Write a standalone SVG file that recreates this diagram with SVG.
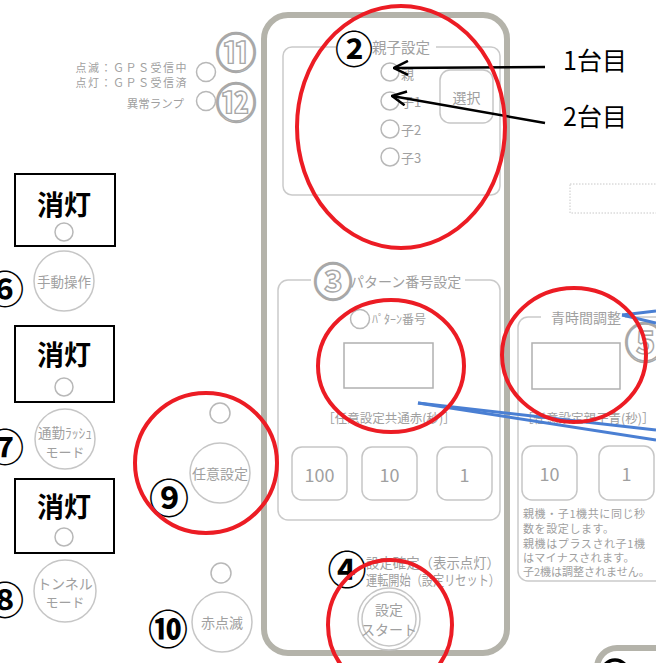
<svg xmlns="http://www.w3.org/2000/svg" width="656" height="663" viewBox="0 0 656 663">
<defs>
<style>
text{font-family:"Noto Sans CJK JP","Noto Sans",sans-serif;dominant-baseline:central}
.g{fill:#a0a0a0}
.panel{fill:none;stroke:#b4b3aa;stroke-width:6}
.box{fill:none;stroke:#cacaca;stroke-width:1.5}
.btn{fill:#fff;stroke:#c6c6c6;stroke-width:1.5}
.led{fill:#fff;stroke:#b8b8b8;stroke-width:1.5}
.disp{fill:#fff;stroke:#b0b0b0;stroke-width:1.5}
.red{fill:none;stroke:#ec1c24;stroke-width:4}
.blue{fill:none;stroke:#4a7fd3;stroke-width:3}
.num{font-weight:bold;fill:#000;text-anchor:middle}
.onum{font-weight:bold;fill:#fff;stroke:#a8a8a8;stroke-width:1.4;text-anchor:middle}
.blk{fill:none;stroke:#000;stroke-width:2}
.off{font-weight:bold;font-size:27px;fill:#000;text-anchor:middle}
.arrow{stroke:#000;stroke-width:2.5;fill:none}
.mid{text-anchor:middle}
.note{font-size:11px}
</style>
<marker id="arr" viewBox="0 0 16 16" refX="15" refY="8" markerWidth="16" markerHeight="16" orient="auto" markerUnits="userSpaceOnUse">
<path d="M1,1 L15,8 L1,15" fill="none" stroke="#000" stroke-width="2.5"/>
</marker>
</defs>
<rect width="656" height="663" fill="#fff"/>

<g id="main-panel">
<rect class="panel" x="264" y="15" width="243" height="638" rx="24"/>
</g>

<g id="panel-oyako">
<rect class="box" x="283" y="47" width="217" height="148" rx="9"/>
<rect x="336" y="40" width="100" height="14" fill="#fff"/>
<text class="g" x="372" y="46" font-size="14.5">親子設定</text>
<text class="num" x="354" y="46" font-size="38">②</text>
<circle class="led" cx="390" cy="72" r="9"/>
<text class="g" x="401" y="73" font-size="13">親</text>
<circle class="led" cx="390" cy="101" r="9"/>
<text class="g" x="401" y="101" font-size="13">子1</text>
<circle class="led" cx="390" cy="129" r="9"/>
<text class="g" x="401" y="129" font-size="13">子2</text>
<circle class="led" cx="390" cy="157" r="9"/>
<text class="g" x="401" y="157" font-size="13">子3</text>
<rect class="btn" x="440" y="70" width="53" height="53" rx="10"/>
<text class="g mid" x="466.5" y="97" font-size="14">選択</text>
</g>

<g id="gps-lamps">
<text class="g" x="188" y="67" font-size="11" text-anchor="end" letter-spacing="1.5">点滅：ＧＰＳ受信中</text>
<text class="g" x="188" y="82" font-size="11" text-anchor="end" letter-spacing="1.5">点灯：ＧＰＳ受信済</text>
<text class="g" x="184" y="103" font-size="11.5" text-anchor="end">異常ランプ</text>
<circle class="led" cx="206" cy="72" r="9.5"/>
<circle class="led" cx="206" cy="101" r="9.5"/>
<text class="onum" x="236" y="50" font-size="41">⑪</text>
<text class="onum" x="236" y="100" font-size="41">⑫</text>
</g>

<g id="mode-manual">
<rect class="blk" x="15" y="174" width="100" height="72"/>
<text class="off" x="64" y="203">消灯</text>
<circle class="led" cx="64" cy="232" r="9"/>
<circle class="btn" cx="64" cy="281" r="30"/>
<text class="g mid" x="64" y="281" font-size="13.5">手動操作</text>
<text class="num" x="5" y="286" font-size="38">⑥</text>
</g>

<g id="mode-rush">
<rect class="blk" x="15" y="326" width="99" height="76"/>
<text class="off" x="64" y="353">消灯</text>
<circle class="led" cx="64" cy="387" r="9"/>
<circle class="btn" cx="65" cy="439" r="30"/>
<text class="g mid" x="65" y="432" font-size="13.5">通勤ﾗｯｼｭ</text>
<text class="g mid" x="65" y="451" font-size="13">モード</text>
<text class="num" x="5" y="444" font-size="38">⑦</text>
</g>

<g id="mode-tunnel">
<rect class="blk" x="15" y="479" width="99" height="74"/>
<text class="off" x="64" y="505">消灯</text>
<circle class="led" cx="64" cy="537" r="9"/>
<circle class="btn" cx="65" cy="591" r="31"/>
<text class="g mid" x="65" y="583" font-size="14">トンネル</text>
<text class="g mid" x="65" y="601" font-size="13">モード</text>
<text class="num" x="5" y="597" font-size="38">⑧</text>
</g>

<g id="mode-nini">
<circle class="led" cx="220" cy="413" r="10"/>
<circle class="btn" cx="220" cy="473" r="30"/>
<text class="g mid" x="220" y="473" font-size="14">任意設定</text>
<text class="num" x="169" y="496" font-size="40">⑨</text>
</g>

<g id="mode-red">
<circle class="led" cx="221" cy="573" r="10"/>
<circle class="btn" cx="222" cy="622" r="30"/>
<text class="g mid" x="222" y="622" font-size="14">赤点滅</text>
<text class="num" x="168" y="627" font-size="40">⑩</text>
</g>

<g id="panel-pattern">
<rect class="box" x="278" y="280" width="222" height="240" rx="10"/>
<rect x="311" y="268" width="154" height="24" fill="#fff"/>
<text class="onum" x="333" y="279" font-size="39">③</text>
<text class="g" x="350" y="281" font-size="14">パターン番号設定</text>
<circle class="led" cx="360" cy="319" r="9.5"/>
<text class="g" x="372" y="318" font-size="12">ﾊﾟﾀｰﾝ番号</text>
<rect class="disp" x="344" y="343" width="89" height="45"/>
<text class="g mid" x="389" y="417" font-size="12.5">［任意設定共通赤(秒)］</text>
<rect class="btn" x="292" y="447" width="55" height="53" rx="10"/>
<text class="g mid" x="319.5" y="474" font-size="18">100</text>
<rect class="btn" x="362" y="447" width="55" height="53" rx="10"/>
<text class="g mid" x="389.5" y="474" font-size="18">10</text>
<rect class="btn" x="437" y="447" width="55" height="53" rx="10"/>
<text class="g mid" x="464.5" y="474" font-size="18">1</text>
</g>

<g id="panel-blue">
<rect class="box" x="518" y="317" width="160" height="264" rx="10"/>
<rect x="541" y="307" width="84" height="20" fill="#fff"/>
<text class="g" x="551" y="317" font-size="14">青時間調整</text>
<text class="onum" x="645" y="340" font-size="41">⑤</text>
<rect class="disp" x="532" y="343" width="88" height="46"/>
<text class="g" x="521" y="417" font-size="12.5">［任意設定親子青(秒)］</text>
<rect class="btn" x="522" y="446" width="55" height="54" rx="10"/>
<text class="g mid" x="549.5" y="473" font-size="18">10</text>
<rect class="btn" x="599" y="446" width="55" height="54" rx="10"/>
<text class="g mid" x="626.5" y="473" font-size="18">1</text>
<text class="g note" x="523" y="513" letter-spacing="0.6">親機・子1機共に同じ秒</text>
<text class="g note" x="523" y="528" letter-spacing="0.6">数を設定します。</text>
<text class="g note" x="523" y="543" letter-spacing="0.6">親機はプラスされ子1機</text>
<text class="g note" x="523" y="557" letter-spacing="0.3">はマイナスされます。</text>
<text class="g note" x="523" y="571" letter-spacing="0">子2機は調整されません。</text>
</g>

<g id="start">
<text class="g" x="366" y="562" font-size="14" textLength="134" lengthAdjust="spacingAndGlyphs">設定確定（表示点灯）</text>
<text class="g" x="366" y="579" font-size="14" textLength="134" lengthAdjust="spacingAndGlyphs">運転開始（設定リセット）</text>
<text class="num" x="347" y="567" font-size="39">④</text>
<circle class="btn" cx="389" cy="619" r="31"/>
<circle class="btn" cx="389" cy="619" r="27"/>
<text class="g mid" x="389" y="609" font-size="14">設定</text>
<text class="g mid" x="389" y="629" font-size="14">スタート</text>
</g>

<g id="right-misc">
<rect x="570" y="184" width="92" height="29" fill="none" stroke="#c8c8c8" stroke-width="1" stroke-dasharray="1.5,1.5"/>
<rect class="panel" x="597" y="648" width="100" height="60" rx="20"/>
<circle cx="615" cy="673" r="13" fill="#fff" stroke="#000" stroke-width="3.5"/>
</g>

<g id="labels">
<text x="563" y="59" font-size="25" fill="#000">1台目</text>
<text x="563" y="115" font-size="25" fill="#000">2台目</text>
</g>

<g id="connectors">
<line class="arrow" x1="545" y1="67" x2="394" y2="68" marker-end="url(#arr)"/>
<line class="arrow" x1="545" y1="123" x2="392" y2="96" marker-end="url(#arr)"/>
<line class="blue" x1="418" y1="403" x2="656" y2="430"/>
<line class="blue" x1="418" y1="403" x2="656" y2="440"/>
<line class="blue" x1="622" y1="315" x2="656" y2="311"/>
<line class="blue" x1="622" y1="315" x2="656" y2="323"/>
</g>

<g id="highlights">
<ellipse class="red" cx="401" cy="127" rx="104" ry="121"/>
<ellipse class="red" cx="391" cy="366" rx="73" ry="66"/>
<ellipse class="red" cx="574" cy="355" rx="72" ry="67"/>
<ellipse class="red" cx="206" cy="463" rx="71" ry="70"/>
<ellipse class="red" cx="390" cy="625" rx="62" ry="65"/>
</g>
</svg>
